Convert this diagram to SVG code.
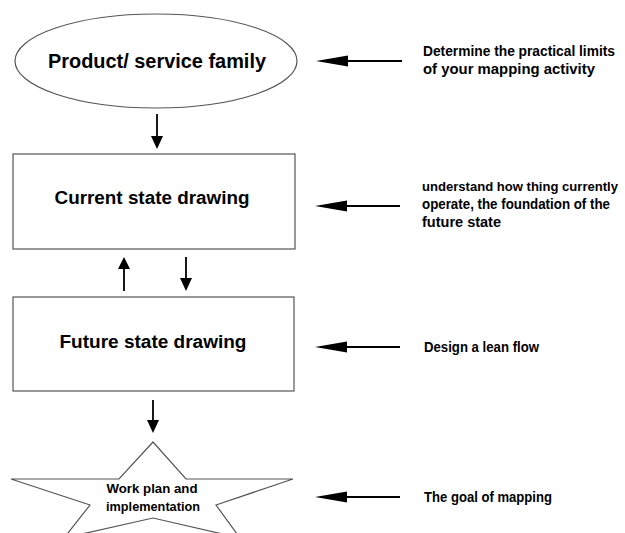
<svg xmlns="http://www.w3.org/2000/svg" width="625" height="533" viewBox="0 0 625 533">
<style>
.shape{fill:#fff;stroke:#555;stroke-width:1.2}
.t{font-family:"Liberation Sans",Arial,sans-serif;font-weight:bold;fill:#000}
.big{font-size:20px;text-anchor:middle}
.box{font-size:18px;text-anchor:middle}
.note{font-size:14px}
.note13{font-size:13px}
.small{font-size:12.5px;text-anchor:middle}
.ln{stroke:#000;stroke-width:1.8;fill:none}
.hd{fill:#000;stroke:none}
</style>
<rect width="625" height="533" fill="#fff"/>
<g id="node-product">
<ellipse class="shape" cx="156" cy="61" rx="141" ry="47"/>
<text class="t big" x="157" y="68" textLength="218" lengthAdjust="spacingAndGlyphs">Product/ service family</text>
</g>
<g id="node-current">
<rect class="shape" x="13" y="154" width="282" height="95"/>
<text class="t box" x="152" y="204" textLength="195" lengthAdjust="spacingAndGlyphs">Current state drawing</text>
</g>
<g id="node-future">
<rect class="shape" x="13" y="297" width="281" height="94"/>
<text class="t box" x="153" y="348" textLength="187" lengthAdjust="spacingAndGlyphs">Future state drawing</text>
</g>
<g id="node-work">
<polygon class="shape" points="153,442 186,479 293,479 216,505 240,538 153,518 64,538 90,505 11,479 119,479"/>
<text class="t small" x="152" y="493" textLength="91" lengthAdjust="spacingAndGlyphs">Work plan and</text>
<text class="t small" x="153" y="511" textLength="94" lengthAdjust="spacingAndGlyphs">implementation</text>
</g>
<g id="note-limits">
<text class="t note" x="423" y="56" textLength="192" lengthAdjust="spacingAndGlyphs">Determine the practical limits</text>
<text class="t note" x="423" y="74" textLength="172" lengthAdjust="spacingAndGlyphs">of your mapping activity</text>
</g>
<g id="note-current">
<text class="t note13" x="422" y="191" textLength="196" lengthAdjust="spacingAndGlyphs">understand how thing currently</text>
<text class="t note" x="422" y="209" textLength="188" lengthAdjust="spacingAndGlyphs">operate, the foundation of the</text>
<text class="t note" x="422" y="227" textLength="79" lengthAdjust="spacingAndGlyphs">future state</text>
</g>
<g id="note-future">
<text class="t note" x="424" y="352" textLength="115" lengthAdjust="spacingAndGlyphs">Design a lean flow</text>
</g>
<g id="note-goal">
<text class="t note" x="424" y="502" textLength="128" lengthAdjust="spacingAndGlyphs">The goal of mapping</text>
</g>
<g id="connectors">
<line class="ln" x1="157" y1="114" x2="157" y2="137"/>
<polygon class="hd" points="151,136 163,136 157,149"/>
<line class="ln" x1="124" y1="268" x2="124" y2="291"/>
<polygon class="hd" points="118,269 130,269 124,257"/>
<line class="ln" x1="186" y1="257" x2="186" y2="279"/>
<polygon class="hd" points="180,278 192,278 186,291"/>
<line class="ln" x1="153" y1="400" x2="153" y2="421"/>
<polygon class="hd" points="147,420 159,420 153,433"/>
<line class="ln" x1="346" y1="61" x2="402" y2="61"/>
<polygon class="hd" points="316,61 348,55.5 348,66.5"/>
<line class="ln" x1="346" y1="206" x2="400" y2="206"/>
<polygon class="hd" points="315,206 347,200.5 347,211.5"/>
<line class="ln" x1="346" y1="347" x2="400" y2="347"/>
<polygon class="hd" points="315,347 347,341.5 347,352.5"/>
<line class="ln" x1="346" y1="497" x2="400" y2="497"/>
<polygon class="hd" points="315,497 347,491.5 347,502.5"/>
</g>
</svg>
